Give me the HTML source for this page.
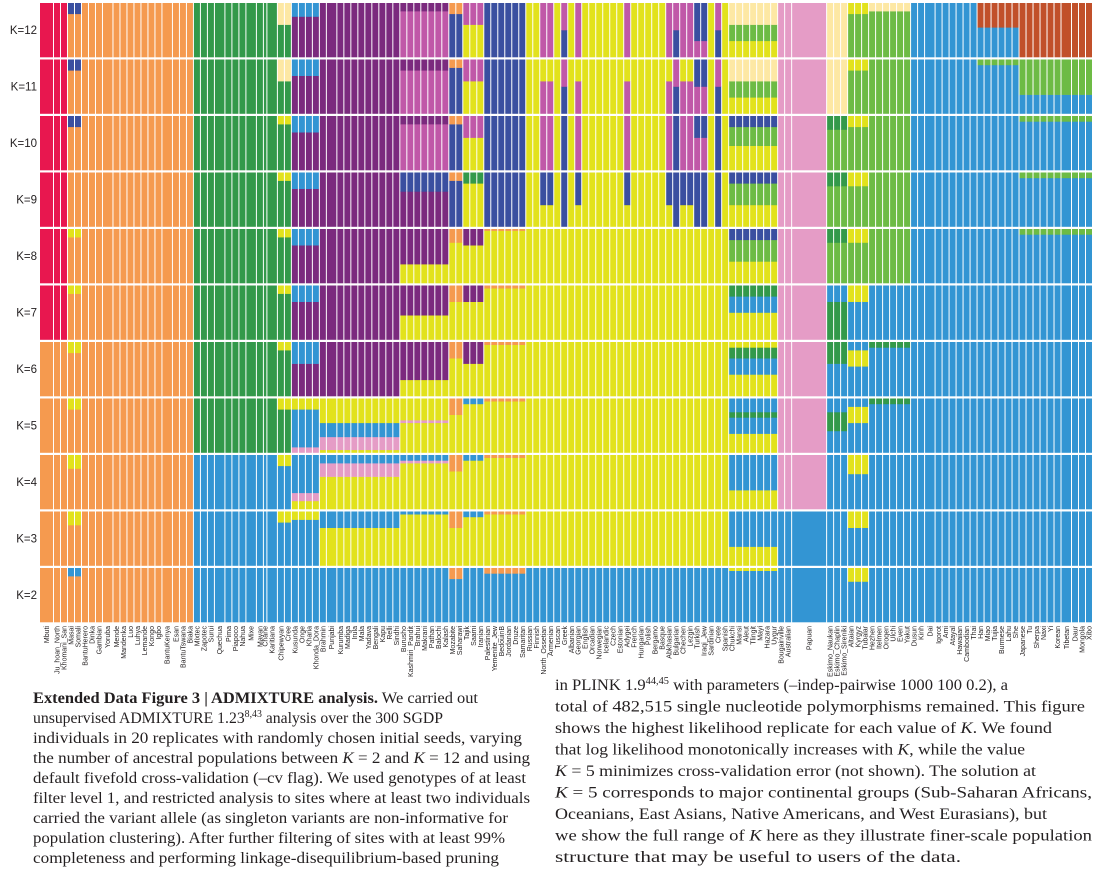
<!DOCTYPE html>
<html><head><meta charset="utf-8"><style>
html,body{margin:0;padding:0;background:#fff;}
svg{display:block;}
.cap{font-family:"Liberation Serif",serif;font-size:16px;fill:#231f20;}
</style></head><body>
<svg id="fig" width="1107" height="878" viewBox="0 0 1107 878" xmlns="http://www.w3.org/2000/svg">
<g id="chart"></g>
<g id="klabels"></g>
<g id="plabels"></g>
<g class="cap">
<text x="33" y="703" textLength="445" lengthAdjust="spacingAndGlyphs"><tspan font-weight="bold">Extended Data Figure 3 | ADMIXTURE analysis.</tspan> We carried out</text>
<text x="33" y="723" textLength="410" lengthAdjust="spacingAndGlyphs">unsupervised ADMIXTURE 1.23<tspan font-size="10" dy="-6">8,43</tspan><tspan dy="6"> analysis over the 300 SGDP</tspan></text>
<text x="33" y="743" textLength="489" lengthAdjust="spacingAndGlyphs">individuals in 20 replicates with randomly chosen initial seeds, varying</text>
<text x="33" y="763" textLength="497" lengthAdjust="spacingAndGlyphs">the number of ancestral populations between <tspan font-style="italic">K</tspan> = 2 and <tspan font-style="italic">K</tspan> = 12 and using</text>
<text x="33" y="783" textLength="493" lengthAdjust="spacingAndGlyphs">default fivefold cross-validation (–cv flag). We used genotypes of at least</text>
<text x="33" y="803" textLength="497" lengthAdjust="spacingAndGlyphs">filter level 1, and restricted analysis to sites where at least two individuals</text>
<text x="33" y="823" textLength="475" lengthAdjust="spacingAndGlyphs">carried the variant allele (as singleton variants are non-informative for</text>
<text x="33" y="843" textLength="472" lengthAdjust="spacingAndGlyphs">population clustering). After further filtering of sites with at least 99%</text>
<text x="33" y="863" textLength="466" lengthAdjust="spacingAndGlyphs">completeness and performing linkage-disequilibrium-based pruning</text>
<text x="555" y="690" textLength="453" lengthAdjust="spacingAndGlyphs">in PLINK 1.9<tspan font-size="10" dy="-6">44,45</tspan><tspan dy="6"> with parameters (–indep-pairwise 1000 100 0.2), a</tspan></text>
<text x="555" y="711.5" textLength="530" lengthAdjust="spacingAndGlyphs">total of 482,515 single nucleotide polymorphisms remained. This figure</text>
<text x="555" y="733" textLength="497" lengthAdjust="spacingAndGlyphs">shows the highest likelihood replicate for each value of <tspan font-style="italic">K</tspan>. We found</text>
<text x="555" y="754.5" textLength="470" lengthAdjust="spacingAndGlyphs">that log likelihood monotonically increases with <tspan font-style="italic">K</tspan>, while the value</text>
<text x="555" y="776" textLength="481" lengthAdjust="spacingAndGlyphs"><tspan font-style="italic">K</tspan> = 5 minimizes cross-validation error (not shown). The solution at</text>
<text x="555" y="797.5" textLength="537" lengthAdjust="spacingAndGlyphs"><tspan font-style="italic">K</tspan> = 5 corresponds to major continental groups (Sub-Saharan Africans,</text>
<text x="555" y="819" textLength="492" lengthAdjust="spacingAndGlyphs">Oceanians, East Asians, Native Americans, and West Eurasians), but</text>
<text x="555" y="840.5" textLength="537" lengthAdjust="spacingAndGlyphs">we show the full range of <tspan font-style="italic">K</tspan> here as they illustrate finer-scale population</text>
<text x="555" y="862" textLength="406" lengthAdjust="spacingAndGlyphs">structure that may be useful to users of the data.</text>
</g>
</svg>
<script>
const kValues = [12,11,10,9,8,7,6,5,4,3,2];
const popNames = ["Mbuti","Ju_hoan_North","Khomani_San","Masai","Somali","BantuHerero","Dinka","Gambian","Yoruba","Mende","Mandenka","Luo","Luhya","Lemande","Kongo","Igbo","BantuKenya","Esan","BantuTswana","Biaka",
"Mixtec","Zapotec","Surui","Quechua","Pima","Piapoco","Nahua","Mixe","Mayan","Chane","Karitiana","Chipewyan","Cree",
"Kusunda","Onge","Kharia","Khonda_Dora","Brahmin","Punjabi","Kurumba","Madiga","Irula","Mala","Yadava","Bengali","Kapu","Relli","Sindhi",
"Burusho","Kashmiri_Pandit","Brahui","Makrani","Pathan","Balochi","Kalash","Mozabite","Saharawi","Tajik","Saami","Iranian",
"Palestinian","Yemenite_Jew","BedouinB","Jordanian","Druze","Samaritan",
"Russian","Finnish","North_Ossetian","Armenian","Tuscan","Greek","Albanian","Georgian","English","Orcadian","Norwegian","Icelandic","Czech","Estonian","Adygei","French","Hungarian","Polish","Bergamo","Basque","Abkhasian","Bulgarian","Chechen","Lezgin","Turkish","Iraqi_Jew","Sardinian","Crete","Spanish",
"Chukchi","Mansi","Aleut","Tlingit","Mayi","Hazara","Uygur","Bougainville","Australian","Papuan",
"Eskimo_Naukan","Eskimo_Chaplin","Eskimo_Sireniki","Altaian","Kyrgyz","Tubalar","Hezhen","Itelmen","Oroqen","Ulchi","Even","Yakut",
"Dusun","Kinh","Dai","Igorot","Ami","Atayal","Hawaiian","Cambodian","Thai","Han","Miao","Tujia","Burmese","Lahu","She",
"Japanese","Tu","Sherpa","Naxi","Yi","Korean","Tibetan","Daur","Mongola","Xibo"];
const popCounts = [4,2,2,2,2,2,2,2,3,2,2,2,2,2,2,2,3,2,2,2,
2,2,2,3,2,2,2,3,2,1,3,2,2,
2,2,2,2,2,3,2,2,2,2,2,2,2,2,2,
2,2,2,2,2,2,2,2,2,2,2,2,
2,2,2,2,2,2,
2,2,2,2,2,2,2,2,2,2,2,2,2,2,2,2,2,2,2,2,2,2,2,2,2,2,2,2,2,
2,2,2,2,2,2,2,2,2,10,
2,2,2,2,2,2,2,2,2,2,2,2,
2,2,3,2,2,2,2,2,2,2,2,2,2,2,2,
2,2,2,2,2,2,3,2,2,2];
const popRegion = ["SAN","SAN","SAN","EAF","EAF","AFR","AFR","AFR","AFR","AFR","AFR","AFR","AFR","AFR","AFR","AFR","AFR","AFR","AFR","AFR",
"AMR","AMR","AMR","AMR","AMR","AMR","AMR","AMR","AMR","AMR","AMR","AMRN","AMRN",
"SAS1","SAS1","SAS1","SAS1","SAS2","SAS2","SAS2","SAS2","SAS2","SAS2","SAS2","SAS2","SAS2","SAS2","SAS2",
"SAS3","SAS3","SAS3","SAS3","SAS3","SAS3","SAS3","MENA","MENA","TAJ","TAJ","TAJ",
"ME","ME","ME","ME","ME","ME",
"EUR","EUR","CAU","CAU","EUR","EURD","EUR","CAU","EUR","EUR","EUR","EUR","EUR","EUR","CAU","EUR","EUR","EUR","EUR","EUR","CAU","EURD","CAU","CAU","CAUM","CAUM","EUR","EURD","EUR",
"CAS","CAS","CAS","CAS","CAS","CAS","CAS","OCE","OCE","OCE",
"NEA","NEA","NEA","SIB","SIB","SIB","SIB2","SIB2","SIB2","SIB2","SIB2","SIB2",
"EAS","EAS","EAS","EAS","EAS","EAS","EAS","EAS","EAS","EASH","EASH","EASH","EASH","EASH","EASH",
"EASN","EASN","EASN","EASN","EASN","EASN","EASN","EASN","EASN","EASN"];
// region compositions indexed K=2..12 (bottom-up "color fraction")
const regionComp = {
SAN:["O","O","O","O","O","R","R","R","R","R","R"],
EAF:["O.85 B.15","O.75 Y.25","O.75 Y.25","O.8 Y.2","O.8 Y.2","O.85 Y.15","O.85 Y.15","O","O.8 D.2","O.8 D.2","O.8 D.2"],
AFR:["O","O","O","O","O","O","O","O","O","O","O"],
AMR:["B","B","B","G","G","G","G","G","G","G","G"],
AMRN:["B","B.8 Y.2","B.8 Y.2","G.8 Y.2","G.85 Y.15","G.85 Y.15","G.85 Y.15","G.85 Y.15","G.85 Y.15","G.6 C.4","G.6 C.4"],
SAS1:["B","B.85 Y.15","Y.15 K.15 B.7","K.1 B.7 Y.2","P.6 B.4","P.7 B.3","P.7 B.3","P.7 B.3","P.7 B.3","P.7 B.3","P.75 B.25"],
SAS2:["B","Y.7 B.3","Y.6 K.25 B.15","Y.05 K.24 B.26 Y.45","P","P","P","P","P","P","P"],
SAS3:["B","Y.95 B.05","Y.85 K.05 B.1","Y.55 K.05 Y.4","Y.3 P.7","Y.45 P.55","Y.35 P.65","P.65 D.35","M.85 P.15","M.8 P.2","M.85 P.15"],
MENA:["B.8 O.2","Y.7 O.3","Y.7 O.3","Y.7 O.3","Y.7 O.3","Y.7 O.3","Y.75 O.25","D.85 O.15","D.85 O.15","D.85 O.15","D.8 O.2"],
TAJ:["B","Y.9 B.1","Y.9 B.1","Y.9 B.1","Y.6 P.4","Y.7 P.3","Y.7 P.3","Y.8 G.2","Y.6 M.4","Y.6 M.4","Y.6 M.4"],
ME:["B.9 O.1","Y.95 O.05","Y.95 O.05","Y.95 O.05","Y.95 O.05","Y.95 O.05","Y.97 O.03","D","D","D","D"],
EUR:["B","Y","Y","Y","Y","Y","Y","Y","Y","Y","Y"],
EURD:["B","Y","Y","Y","Y","Y","Y","D","D","D.5 M.5","D.5 M.5"],
CAU:["B","Y","Y","Y","Y","Y","Y","Y.4 D.6","M","M.6 Y.4","M"],
CAUM:["B","Y","Y","Y","Y","Y","Y","D","M.6 D.4","M.5 D.5","M.3 D.7"],
CAS:["B.95 Y.05","Y.35 B.65","Y.35 B.65","Y.35 B.3 G.1 B.25","Y.4 B.3 G.2 Y.1","Y.5 B.3 G.2","Y.4 L.4 D.2","Y.4 L.4 D.2","Y.45 L.35 D.2","Y.3 L.3 C.4","Y.3 L.3 C.4"],
OCE:["B","B","K","K","K","K","K","K","K","K","K"],
NEA:["B","B","B","B.4 G.35 B.25","B.6 G.4","G.7 B.3","L.75 G.25","L.75 G.25","L.75 G.25","C","C"],
SIB:["B.75 Y.25","B.7 Y.3","B.65 Y.35","B.55 Y.3 B.15","B.55 Y.3 B.15","B.7 Y.3","L.75 Y.25","L.75 Y.25","L.8 Y.2","L.8 Y.2","L.8 Y.2"],
SIB2:["B","B","B","B.9 G.1","B.9 G.1","B","L","L","L","L","L.85 C.15"],
EAS:["B","B","B","B","B","B","B","B","B","B","B"],
EASH:["B","B","B","B","B","B","B","B","B","B.9 L.1","B.55 N.45"],
EASN:["B","B","B","B","B","B","B.9 L.1","B.9 L.1","B.9 L.1","B.35 L.65","N"]
};
const colorMap = {R:"#e8174f",O:"#f59a4f",G:"#33994a",P:"#7b2a7e",M:"#c058a8",D:"#3a4fa0",Y:"#e2e21c",B:"#3395d3",K:"#e59cc6",L:"#6dbb45",C:"#fde8a4",N:"#c1502a"};

const NS = "http://www.w3.org/2000/svg";
const X0 = 40, X1 = 1093, ROW0 = 3, PITCH = 56.5, ROWH = 54, LABY = 626;
const total = popCounts.reduce((a,b)=>a+b,0);
function xScale(i){ return X0 + (X1 - X0) * i / total; }
function rowTop(k){ return ROW0 + kValues.indexOf(k) * PITCH; }
function mk(tag, attrs){ const e=document.createElementNS(NS,tag); for(const a in attrs) e.setAttribute(a,attrs[a]); return e; }

const chart = document.getElementById('chart');
const kl = document.getElementById('klabels');
const pl = document.getElementById('plabels');

kValues.forEach(k=>{
  const t = mk('text',{x:37,y:rowTop(k)+ROWH/2+4,'text-anchor':'end','font-family':'Liberation Sans, sans-serif','font-size':'11.5',fill:'#231f20'});
  
  
  t.textContent = 'K=' + k;
  kl.appendChild(t);
});

let cum = 0;
popNames.forEach((name,pi)=>{
  const xa = xScale(cum), xb = xScale(cum + popCounts[pi]);
  cum += popCounts[pi];
  const comps = regionComp[popRegion[pi]];
  kValues.forEach(k=>{
    const parts = comps[k-2].split(' ').map(s=>{const c=s[0]; const f=s.length>1?parseFloat('0'+s.slice(1)):1; return [c,f];});
    let yb = rowTop(k) + ROWH;
    parts.forEach(([c,f])=>{
      const h = f*ROWH;
      const r = mk('rect',{x:xa.toFixed(2),y:(yb-h).toFixed(2),width:Math.max(0.5,xb-xa-1).toFixed(2),height:(h+0.3).toFixed(2),fill:colorMap[c]});
      
      
      chart.appendChild(r);
      yb -= h;
    });
  });
  const cx = (xa+xb)/2 + 2;
  const t = mk('text',{x:0,y:0,transform:`translate(${cx.toFixed(2)},${LABY}) rotate(-90)`,'text-anchor':'end','font-family':'Liberation Sans, sans-serif','font-size':'7',fill:'#231f20'});
  
  
  t.textContent = name;
  pl.appendChild(t);
});
</script>
</body></html>
